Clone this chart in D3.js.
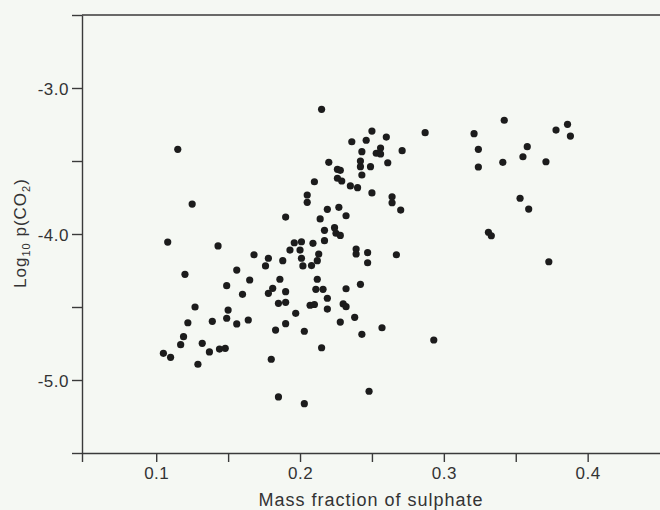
<!DOCTYPE html>
<html>
<head>
<meta charset="utf-8">
<script src="https://cdn.jsdelivr.net/npm/d3@7"></script>
<style>
  body { margin: 0; background: #f5f8f3; }
  svg { display: block; }
  .axis path, .axis line { stroke: #3a3a3a; stroke-width: 1.4; }
  .axis text { font-family: "Liberation Sans", Arial, sans-serif; font-size: 17px; fill: #333; letter-spacing: 0.5px; }
  .label { font-family: "Liberation Sans", Arial, sans-serif; font-size: 18px; fill: #333; letter-spacing: 1px; }
  .dot { fill: #1c1c1c; }
</style>
</head>
<body>
<svg id="chart" width="660" height="510"></svg>
<script>
// mass fraction of sulphate (x) and log10 p(CO2) (y)
const sulphate = [
  0.115, 0.125, 0.108, 0.143, 0.120, 0.127, 0.122, 0.139, 0.119, 0.117,
  0.132, 0.137, 0.144, 0.148, 0.105, 0.110, 0.129, 0.156, 0.165, 0.149,
  0.160, 0.150, 0.149, 0.156, 0.164, 0.168, 0.178, 0.176, 0.188, 0.193,
  0.200, 0.201, 0.202, 0.208, 0.186, 0.181, 0.178, 0.190, 0.185, 0.190,
  0.197, 0.190, 0.183, 0.203, 0.180, 0.185, 0.203, 0.190, 0.196, 0.201,
  0.209, 0.217, 0.213, 0.212, 0.207, 0.210, 0.212, 0.211, 0.216, 0.219,
  0.219, 0.230, 0.232, 0.232, 0.242, 0.238, 0.228, 0.243, 0.257, 0.215,
  0.293, 0.248, 0.239, 0.239, 0.247, 0.247, 0.267, 0.217, 0.225, 0.228,
  0.224, 0.214, 0.219, 0.227, 0.232, 0.205, 0.205, 0.210, 0.235, 0.240,
  0.250, 0.264, 0.264, 0.270, 0.226, 0.228, 0.226, 0.229, 0.243, 0.220,
  0.242, 0.242, 0.249, 0.261, 0.243, 0.253, 0.256, 0.256, 0.271, 0.236,
  0.246, 0.250, 0.260, 0.287, 0.215, 0.342, 0.321, 0.324, 0.324, 0.341,
  0.358, 0.355, 0.371, 0.378, 0.386, 0.388, 0.353, 0.359, 0.331, 0.333,
  0.373
];
const logPCO2 = [
  -3.420, -3.795, -4.055, -4.082, -4.276, -4.500, -4.608, -4.598, -4.703, -4.758,
  -4.749, -4.808, -4.788, -4.783, -4.817, -4.845, -4.892, -4.247, -4.315, -4.354,
  -4.413, -4.521, -4.577, -4.616, -4.589, -4.142, -4.166, -4.219, -4.183, -4.110,
  -4.110, -4.166, -4.219, -4.216, -4.310, -4.372, -4.406, -4.395, -4.475, -4.468,
  -4.543, -4.614, -4.658, -4.666, -4.858, -5.116, -5.162, -3.884, -4.060, -4.053,
  -4.064, -4.046, -4.137, -4.183, -4.488, -4.483, -4.310, -4.379, -4.379, -4.440,
  -4.514, -4.479, -4.498, -4.375, -4.345, -4.571, -4.603, -4.687, -4.642, -4.779,
  -4.726, -5.077, -4.103, -4.137, -4.128, -4.197, -4.142, -3.975, -3.995, -4.010,
  -3.957, -3.897, -3.831, -3.817, -3.875, -3.733, -3.783, -3.642, -3.671, -3.683,
  -3.719, -3.745, -3.786, -3.836, -3.557, -3.564, -3.618, -3.637, -3.596, -3.509,
  -3.500, -3.539, -3.539, -3.512, -3.436, -3.447, -3.411, -3.452, -3.429, -3.368,
  -3.358, -3.295, -3.336, -3.306, -3.146, -3.221, -3.313, -3.420, -3.541, -3.509,
  -3.402, -3.471, -3.505, -3.288, -3.249, -3.329, -3.755, -3.829, -3.988, -4.012,
  -4.190
];

const xDomain = [0.0484, 0.4503];
const yDomain = [-5.5, -2.5];
const xTickValues = [0.1, 0.15, 0.2, 0.25, 0.3, 0.35, 0.4];
const xTickLabels = ['0.1', '', '0.2', '', '0.3', '', '0.4'];
const yTickValues = [-2.5, -3.0, -3.5, -4.0, -4.5, -5.0, -5.5];
const yTickLabels = ['', '-3.0', '', '-4.0', '', '-5.0', ''];

const svg = d3.select('#chart');
const plotLeft = 82, plotRight = 660, plotTop = 15, plotBottom = 453;

const xScale = d3.scaleLinear().domain(xDomain).range([plotLeft, plotRight]);
const yScale = d3.scaleLinear().domain(yDomain).range([plotBottom, plotTop]);

// top frame line
svg.append('line')
  .attr('x1', plotLeft).attr('x2', plotRight)
  .attr('y1', plotTop).attr('y2', plotTop)
  .attr('stroke', '#3a3a3a')
  .attr('stroke-width', 1.4);

// x axis (first tick at domain start makes the little overhang below the corner)
svg.append('g')
  .attr('class', 'axis')
  .attr('transform', `translate(0, ${plotBottom})`)
  .call(d3.axisBottom(xScale)
    .tickValues([xDomain[0]].concat(xTickValues))
    .tickSize(9)
    .tickSizeOuter(0)
    .tickPadding(5)
    .tickFormat((d) => {
      const i = xTickValues.indexOf(d);
      return i < 0 ? '' : xTickLabels[i];
    }))
  .attr('font-family', null)
  .attr('font-size', null);

svg.append('g')
  .attr('class', 'axis')
  .attr('transform', `translate(${plotLeft}, 0)`)
  .call(d3.axisLeft(yScale)
    .tickValues(yTickValues)
    .tickSize(10)
    .tickSizeOuter(0)
    .tickPadding(3)
    .tickFormat((d, i) => yTickLabels[i]))
  .attr('font-family', null)
  .attr('font-size', null)
  .selectAll('text')
  .attr('dy', '0.4em');

// points
svg.append('g')
  .selectAll('circle')
  .data(sulphate.map((s, i) => ({ x: s, y: logPCO2[i] })))
  .enter()
  .append('circle')
  .attr('class', 'dot')
  .attr('cx', (d) => xScale(d.x))
  .attr('cy', (d) => yScale(d.y))
  .attr('r', 3.6);

svg.append('text')
  .attr('class', 'label')
  .attr('x', (plotLeft + plotRight) / 2)
  .attr('y', 506)
  .attr('text-anchor', 'middle')
  .text('Mass fraction of sulphate');

const yTitle = svg.append('text')
  .attr('class', 'label')
  .attr('transform', 'rotate(-90)')
  .attr('x', -233)
  .attr('y', 26)
  .attr('text-anchor', 'middle')
  .style('font-size', '17px');
yTitle.append('tspan').text('Log');
yTitle.append('tspan').attr('dy', 4).style('font-size', '11px').text('10');
yTitle.append('tspan').attr('dy', -4).text(' p(CO');
yTitle.append('tspan').attr('dy', 4).style('font-size', '11px').text('2');
yTitle.append('tspan').attr('dy', -4).text(')');
</script>
</body>
</html>
